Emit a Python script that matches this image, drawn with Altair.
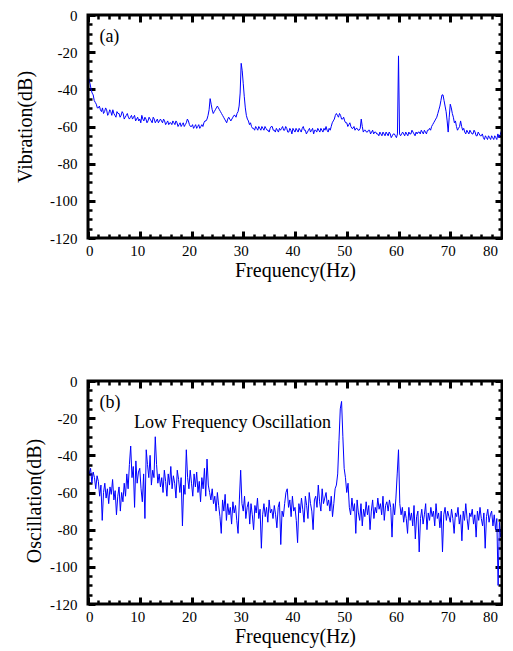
import altair as alt
import pandas as pd

# ---------------- data ----------------
STEP_A = 0.2   # Hz between samples, panel (a)
VIB_DB = [
    -32, -35, -37, -40, -42, -43, -46, -47, -48, -50,
    -50, -49, -51, -52, -50, -53, -52, -50, -51, -54,
    -53, -51, -52, -54, -51, -53, -54, -55, -52, -53,
    -53, -55, -54, -52, -53, -56, -55, -54, -53, -55,
    -56, -55, -54, -56, -55, -54, -57, -56, -55, -57,
    -56, -58, -54, -56, -57, -55, -56, -58, -57, -55,
    -56, -57, -58, -55, -56, -58, -57, -56, -58, -57,
    -56, -57, -58, -56, -57, -59, -58, -57, -59, -58,
    -58, -59, -57, -58, -59, -57, -58, -60, -59, -58,
    -60, -59, -58, -60, -59, -58, -56, -57, -59, -60,
    -60, -59, -61, -60, -59, -61, -60, -59, -61, -60,
    -59, -60, -58, -57, -57, -56, -54, -51, -45, -48,
    -51, -53, -52, -51, -50, -49, -50, -51, -52, -53,
    -54, -55, -56, -57, -58, -56, -55, -56, -57, -56,
    -55, -54, -54, -55, -53, -52, -49, -42, -26, -30,
    -37, -44, -50, -54, -56, -57, -59, -58, -60, -61,
    -61, -62, -60, -61, -62, -60, -61, -62, -60, -61,
    -62, -60, -61, -62, -62, -63, -61, -60, -60, -62,
    -62, -63, -61, -62, -63, -61, -62, -61, -60, -62,
    -62, -60, -61, -63, -63, -61, -62, -64, -61, -62,
    -63, -61, -62, -63, -61, -62, -63, -61, -60, -62,
    -62, -64, -63, -62, -61, -63, -62, -61, -64, -62,
    -62, -63, -61, -62, -63, -61, -62, -63, -61, -62,
    -60, -62, -63, -61, -62, -60, -58, -57, -56, -54,
    -53, -54, -55, -53, -54, -56, -56, -55, -57, -58,
    -58, -60, -59, -58, -60, -61, -61, -60, -62, -61,
    -61, -62, -62, -61, -56, -60, -63, -62, -62, -63,
    -63, -62, -62, -64, -63, -62, -64, -63, -63, -64,
    -64, -65, -63, -64, -65, -63, -64, -65, -63, -64,
    -65, -63, -64, -66, -65, -64, -64, -65, -66, -64,
    -22, -64, -65, -64, -63, -64, -65, -63, -64, -65,
    -63, -64, -64, -62, -63, -64, -65, -63, -64, -63,
    -63, -64, -62, -63, -64, -62, -63, -64, -62, -62,
    -61, -62, -60, -59, -58, -57, -56, -55, -53, -51,
    -49, -46, -43, -43, -46, -49, -52, -57, -63, -55,
    -48, -50, -53, -55, -58, -57, -60, -62, -61, -60,
    -57, -60, -62, -61, -63, -64, -62, -63, -64, -62,
    -63, -64, -64, -62, -63, -65, -65, -63, -64, -65,
    -65, -64, -66, -67, -65, -66, -67, -65, -66, -67,
    -65, -66, -67, -65, -66, -67, -64, -66, -65, -63,
    -62,
]

STEP_B = 0.25  # Hz between samples, panel (b)
OSC_DB = [
    -46, -50, -47, -55, -49, -52, -58, -51,
    -54, -62, -56, -75, -60, -55, -63, -58,
    -66, -57, -61, -53, -64, -59, -72, -62,
    -57, -70, -60, -65, -55, -62, -50, -58,
    -45, -35, -52, -46, -68, -43, -55, -49,
    -47, -58, -65, -50, -74, -37, -45, -52,
    -40, -56, -48, -52, -30, -45, -55, -50,
    -57, -52, -60, -48, -54, -62, -50, -56,
    -46, -58, -51, -55, -63, -48, -53, -60,
    -52, -78, -56, -61, -37, -52, -58, -48,
    -55, -62, -50, -57, -49, -60, -54, -65,
    -52, -58, -47, -62, -42, -56, -60, -64,
    -58, -66, -62, -70, -60, -67, -73, -82,
    -64, -70, -61, -75, -66, -72, -68, -77,
    -65, -71, -67, -75, -82, -64, -48, -66,
    -70, -62, -74, -68, -65, -77, -66, -72,
    -80, -67, -71, -63, -74, -69, -90, -72,
    -66, -73, -68, -76, -64, -71, -69, -74,
    -67, -72, -79, -68, -65, -88, -70, -73,
    -66, -60, -58, -68, -64, -73, -62, -70,
    -68, -75, -87, -66, -71, -63, -69, -76,
    -62, -67, -74, -60, -66, -70, -80, -64,
    -62, -68, -56, -65, -70, -58, -66, -63,
    -60, -67, -64, -70, -62, -73, -66, -58,
    -56, -50, -32, -15, -11, -30, -47, -52,
    -60, -55, -68, -72, -63, -70, -66, -82,
    -64, -71, -75, -66, -78, -69, -73, -65,
    -72, -67, -80, -70, -64, -74, -68, -71,
    -63, -69, -66, -72, -62, -75, -67, -65,
    -70, -64, -68, -84, -66, -72, -63, -50,
    -37, -66, -72, -68, -76, -70, -74, -82,
    -68, -75, -71, -78, -67, -85, -73, -70,
    -92, -74, -69, -77, -72, -66, -80, -71,
    -75, -68, -73, -70, -78, -66, -74, -71,
    -79, -70, -92, -72, -68, -75, -70, -73,
    -76, -69, -74, -82, -71, -73, -68, -77,
    -72, -86, -70, -75, -66, -74, -80, -71,
    -73, -69, -77, -72, -84, -70, -75, -68,
    -74, -78, -71, -90, -73, -69, -76, -72,
    -70, -78, -72, -80, -74, -110, -76, -84,
    -80,
]

X_DOMAIN = [0, 80]
Y_DOMAIN = [-120, 0]
X_MAJOR = [0, 10, 20, 30, 40, 50, 60, 70, 80]
X_LABELS_MAIN = [0, 10, 20, 30, 40, 50, 60, 70]
X_LABELS_END = [80]
X_MINOR = [2, 4, 6, 8, 12, 14, 16, 18, 22, 24, 26, 28, 32, 34, 36, 38,
           42, 44, 46, 48, 52, 54, 56, 58, 62, 64, 66, 68, 72, 74, 76, 78]
Y_MAJOR = [0, -20, -40, -60, -80, -100, -120]
Y_MINOR = [-5, -10, -15, -25, -30, -35, -45, -50, -55, -65, -70, -75,
           -85, -90, -95, -105, -110, -115]

PANEL_A_LABELS = [{"f": 2.2, "v": -14.4, "t": "(a)", "s": 18}]
PANEL_B_LABELS = [{"f": 2.2, "v": -14.6, "t": "(b)", "s": 18},
                  {"f": 8.9, "v": -25.3, "t": "Low Frequency Oscillation", "s": 18}]

FONT = "Liberation Serif"
W, H = 414, 223
MAJ_LEN, MIN_LEN = 7, 4
FRAME_W = 3
FRAME_COLOR = "black"


def tick_axis(orient, values, size, width):
    return alt.Axis(orient=orient, values=values, labels=False, title=None,
                    domain=False, grid=False, ticks=True, tickSize=size,
                    tickWidth=width, tickColor="black", offset=-size)


def panel(values, step, ytitle, ytitle_x, ytitle_y, notes):
    df = pd.DataFrame({"f": [round(i * step, 3) for i in range(len(values))],
                       "v": values})
    xs = alt.Scale(domain=X_DOMAIN, nice=False, zero=False)
    ys = alt.Scale(domain=Y_DOMAIN, nice=False, zero=False)
    base = alt.Chart(df)
    line = base.mark_line(color="#0000ff", strokeWidth=1, clip=True).encode(
        x=alt.X("f:Q", scale=xs, axis=alt.Axis(
            orient="bottom", values=X_LABELS_MAIN, labelExpr="'' + datum.value",
            ticks=False, grid=False, tickSize=0, domain=False,
            labelFont=FONT, labelFontSize=15, labelColor="black",
            labelBaseline="alphabetic", labelPadding=17.5, labelOffset=-2.5,
            title="Frequency(Hz)", titleFont=FONT, titleFontSize=20,
            titleFontWeight="normal", titleColor="black",
            titleBaseline="alphabetic", titleY=38)),
        y=alt.Y("v:Q", scale=ys, axis=alt.Axis(
            orient="left", values=Y_MAJOR, labelExpr="'' + datum.value",
            ticks=False, grid=False, tickSize=0, domain=False,
            labelFont=FONT, labelFontSize=15, labelColor="black",
            labelPadding=11,
            title=ytitle, titleFont=FONT, titleFontSize=20,
            titleFontWeight="normal", titleColor="black",
            titleAngle=270, titleBaseline="middle",
            titleX=ytitle_x, titleY=ytitle_y)),
    )
    end_label = base.mark_line(opacity=0).encode(
        x=alt.X("f:Q", scale=xs, axis=alt.Axis(
            orient="bottom", values=X_LABELS_END, labelExpr="'' + datum.value",
            ticks=False, domain=False, grid=False, tickSize=0,
            labelFont=FONT, labelFontSize=15, labelColor="black",
            labelBaseline="alphabetic", labelPadding=17.5, labelOffset=-4.5,
            title=None)),
        y=alt.Y("v:Q", scale=ys, axis=None),
    )
    frame_df = pd.DataFrame({"x0": [X_DOMAIN[0]], "x1": [X_DOMAIN[1]],
                             "y0": [Y_DOMAIN[0]], "y1": [Y_DOMAIN[1]]})
    frame = alt.Chart(frame_df).mark_rect(
        filled=False, fillOpacity=0, stroke=FRAME_COLOR, strokeWidth=FRAME_W
    ).encode(
        x=alt.X("x0:Q", scale=xs, axis=None), x2="x1:Q",
        y=alt.Y("y0:Q", scale=ys, axis=None), y2="y1:Q",
    )
    layers = [line, end_label]
    for xo, xv, yo, yv, size, width in [
        ("bottom", X_MAJOR, "left", Y_MAJOR, MAJ_LEN, 3),
        ("bottom", X_MINOR, "left", Y_MINOR, MIN_LEN, 2.5),
        ("top", X_MAJOR, "right", Y_MAJOR, MAJ_LEN, 3),
        ("top", X_MINOR, "right", Y_MINOR, MIN_LEN, 2.5),
    ]:
        layers.append(base.mark_line(opacity=0).encode(
            x=alt.X("f:Q", scale=xs, axis=tick_axis(xo, xv, size, width)),
            y=alt.Y("v:Q", scale=ys, axis=tick_axis(yo, yv, size, width)),
        ))
    txt = alt.Chart(pd.DataFrame(notes)).mark_text(
        font=FONT, align="left", baseline="alphabetic", color="black"
    ).encode(
        x=alt.X("f:Q", scale=xs, axis=None),
        y=alt.Y("v:Q", scale=ys, axis=None),
        text="t:N",
        size=alt.Size("s:Q", scale=None, legend=None),
    )
    layers += [frame, txt]
    return alt.layer(*layers).resolve_axis(x="independent", y="independent").properties(
        width=W, height=H)


pa = panel(VIB_DB, STEP_A, "Vibration(dB)", -63, H / 2, PANEL_A_LABELS)
pb = panel(OSC_DB, STEP_B, "Oscillation(dB)", -54, H / 2 + 8, PANEL_B_LABELS)

chart = alt.vconcat(pa, pb, spacing=143, bounds="flush").properties(
    padding={"left": 7, "top": 0, "right": -1, "bottom": 5}
).configure(
    font=FONT,
    background="white",
    view=alt.ViewConfig(stroke=None),
    axis=alt.AxisConfig(labelFont=FONT, titleFont=FONT),
    text=alt.MarkConfig(font=FONT),
)

chart.save("out.html", embed_options={"renderer": "svg", "actions": False})
